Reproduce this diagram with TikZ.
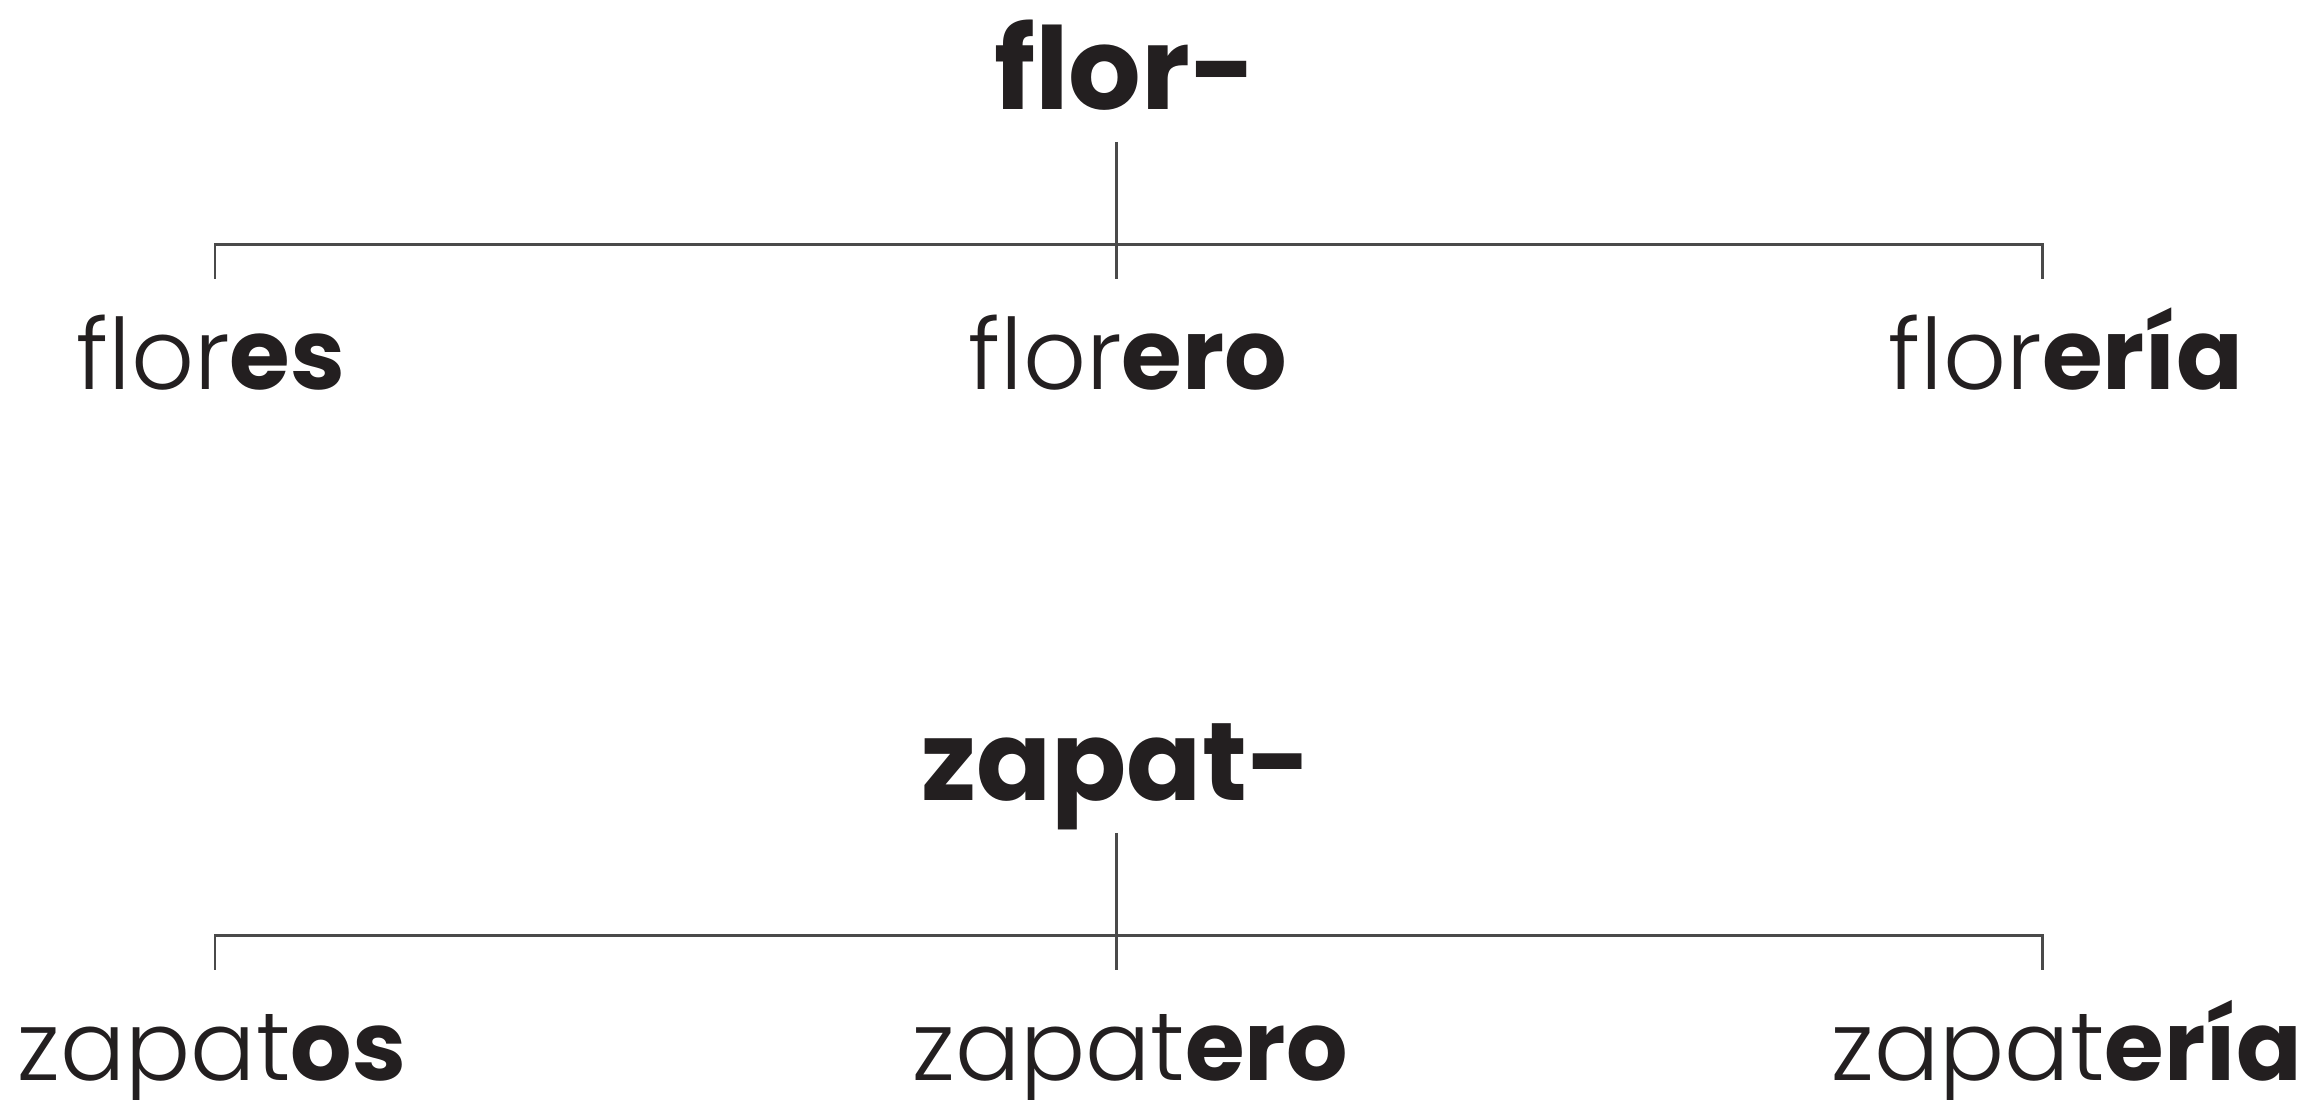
\documentclass[tikz,border=0pt]{standalone}
\usepackage{fontspec}
\setmainfont{Poppins Light}[BoldFont={Poppins Bold}]
\definecolor{ink}{HTML}{231F20}
\definecolor{rule}{HTML}{4A4A4A}

\begin{document}
\begin{tikzpicture}[
        root/.style={anchor=base, inner sep=0pt, text=ink, font=\fontsize{32.5}{38}\selectfont\bfseries},
        word/.style={anchor=base, inner sep=0pt, text=ink, font=\fontsize{28}{34}\selectfont},
        zword/.style={anchor=base, inner sep=0pt, text=ink, font=\fontsize{27.5}{33}\selectfont},
        branch/.style={draw=rule, line width=0.85pt}
    ]
        \useasboundingbox (0,0) rectangle (23.23,11);
        % flor-
        \node[root] (r1) at (11.255, 9.90) {flor-};
        \coordinate (t1) at (11.16, 9.58);
        \coordinate (b1) at (11.16, 8.21);
        \coordinate (l1) at (2.15, 8.55);
        \coordinate (l1b) at (2.15, 8.21);
        \coordinate (e1) at (20.42, 8.55);
        \coordinate (e1b) at (20.42, 8.21);
        \node[word] (w11) at (2.11, 7.10)  {flor\textbf{es}};
        \node[word] (w12) at (11.28, 7.10) {flor\textbf{ero}};
        \node[word] (w13) at (20.66, 7.10) {flor\textbf{ería}};
        \draw[branch] (t1) -- (b1);
        \draw[branch] (l1b) -- (l1) -- (e1) -- (e1b);
        % zapat-
        \node[root, font=\fontsize{31.5}{37}\selectfont\bfseries] (r2) at (11.165, 2.99) {zapat-};
        \coordinate (t2) at (11.16, 2.67);
        \coordinate (b2) at (11.16, 1.30);
        \coordinate (l2) at (2.15, 1.64);
        \coordinate (l2b) at (2.15, 1.30);
        \coordinate (e2) at (20.42, 1.64);
        \coordinate (e2b) at (20.42, 1.30);
        \node[zword] (w21) at (2.12, 0.19)  {zapat\textbf{os}};
        \node[zword] (w22) at (11.30, 0.19) {zapat\textbf{ero}};
        \node[zword] (w23) at (20.67, 0.19) {zapat\textbf{ería}};
        \draw[branch] (t2) -- (b2);
        \draw[branch] (l2b) -- (l2) -- (e2) -- (e2b);
\end{tikzpicture}
\end{document}
